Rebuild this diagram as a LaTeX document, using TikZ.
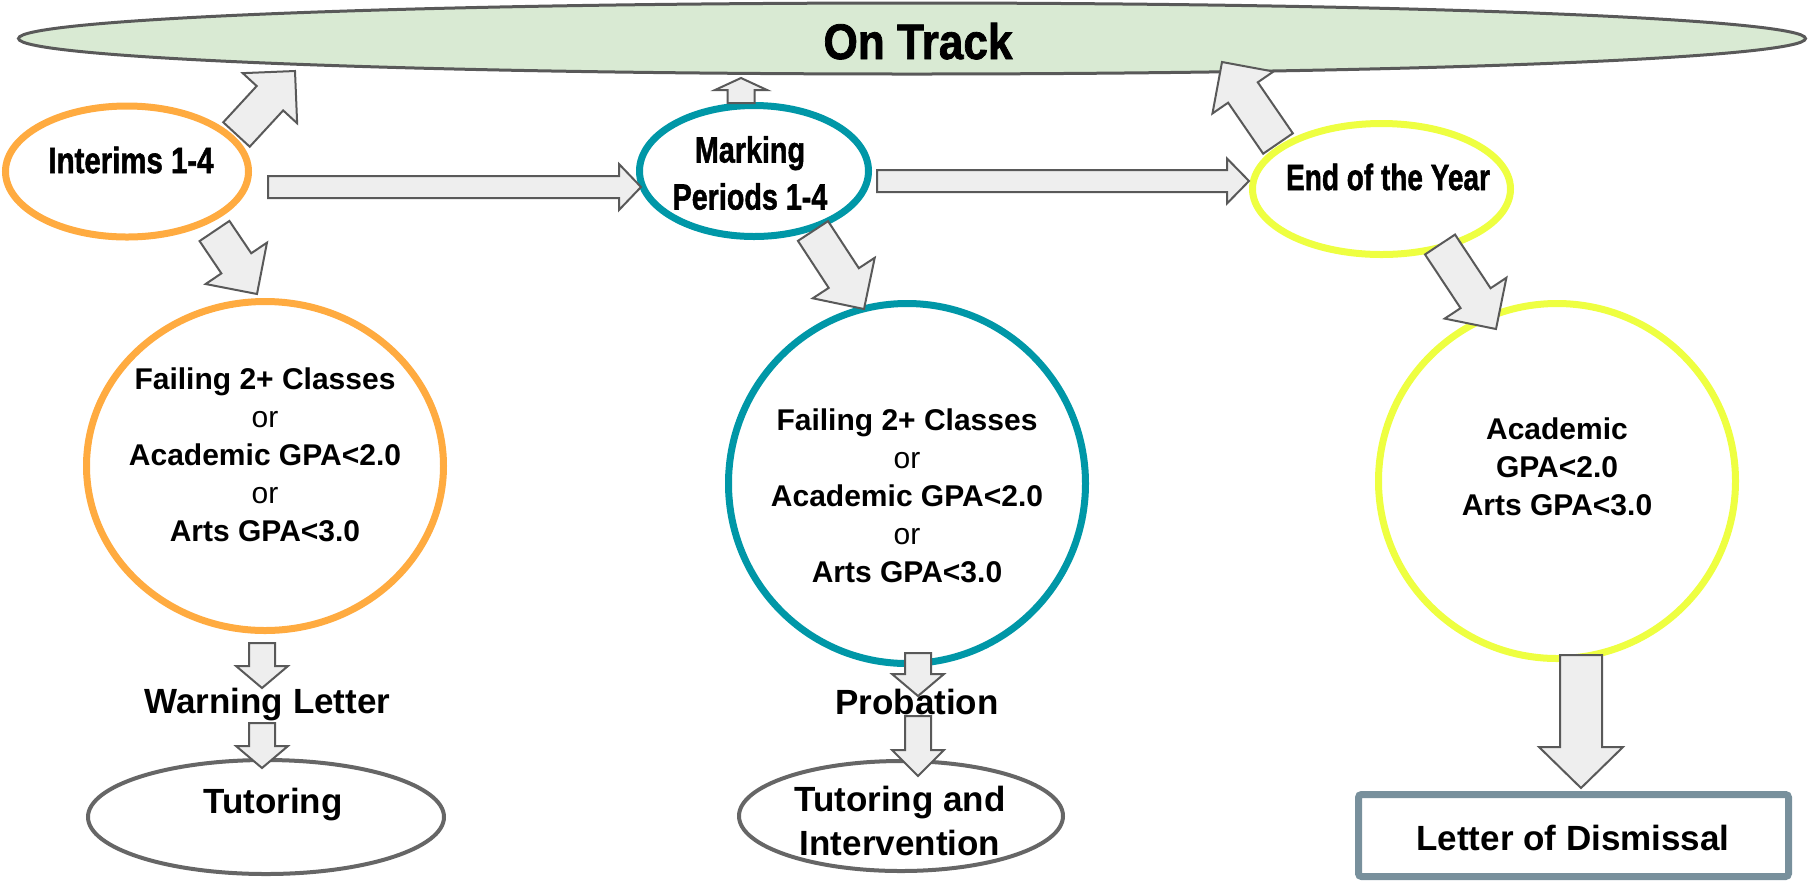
\documentclass[tikz,border=0pt]{standalone}
\usepackage{fontspec}
\setmainfont{Liberation Sans}
\newfontfamily\heavyfont{Liberation Sans}[BoldFeatures={FakeBold=1.6}]
\usepackage{graphicx}
\usetikzlibrary{shapes.geometric,calc}
\definecolor{ontrackfill}{HTML}{D9EAD3}
\definecolor{darkline}{HTML}{595959}
\definecolor{orangeline}{HTML}{FFAB40}
\definecolor{tealline}{HTML}{0097A7}
\definecolor{limeline}{HTML}{EEFF41}
\definecolor{slateline}{HTML}{78909C}
\definecolor{arrowfill}{HTML}{EEEEEE}
\definecolor{greyline}{HTML}{666666}
\newcommand\cnd[2][0.82]{\scalebox{#1}[1.04]{#2}}
% block arrow: start, end, shaft half width, head half width, head length
\newcommand\blockarrow[5]{%
  \coordinate (ba-h) at ($(#2)!#5!(#1)$);
  \draw[blockarrow] ($(#1)!#3!90:(#2)$) -- ($(ba-h)!#3!90:(#2)$) -- ($(ba-h)!#4!90:(#2)$)
    -- (#2) -- ($(ba-h)!#4!-90:(#2)$) -- ($(ba-h)!#3!-90:(#2)$) -- ($(#1)!#3!-90:(#2)$) -- cycle;
}
\tikzset{
  ring/.style={ellipse, draw, inner sep=0pt, line width=3.5pt, fill=white},
  softring/.style={ellipse, draw=greyline, inner sep=0pt, line width=2pt, fill=white},
  blockarrow/.style={draw=darkline, fill=arrowfill, line width=1pt, line join=miter},
  lbl/.style={font=\bfseries\fontsize{15}{19}\selectfont, align=center, inner sep=0pt},
  big/.style={font=\bfseries\fontsize{17.5}{22}\selectfont, align=center, inner sep=0pt},
  cond/.style={font=\heavyfont\bfseries\fontsize{17.5}{23.5}\selectfont, align=center, inner sep=0pt},
}
\begin{document}
\begin{tikzpicture}[x=0.5pt,y=-0.5pt]
\useasboundingbox (0,0) rectangle (1810,880);
% shapes
\node[ellipse, draw=darkline, fill=ontrackfill, line width=1.5pt, inner sep=0pt,
      minimum width=893.5pt, minimum height=35.5pt] (ontrack) at (912,38.5) {};
\node[ring, draw=orangeline, minimum width=121.5pt, minimum height=65.5pt] (interims) at (127,171.5) {};
\node[ring, draw=tealline, minimum width=114.5pt, minimum height=65.5pt] (marking) at (754,171) {};
\node[ring, draw=limeline, minimum width=129pt, minimum height=65.5pt] (endyear) at (1381.5,189) {};
\node[ring, draw=orangeline, minimum width=178.5pt, minimum height=164.5pt] (fail1) at (265,466) {};
\node[ring, draw=tealline, minimum width=178.5pt, minimum height=180pt] (fail2) at (907,483.5) {};
\node[ring, draw=limeline, minimum width=178.5pt, minimum height=177.5pt] (fail3) at (1557,481) {};
\node[softring, minimum width=178pt, minimum height=57pt] (tut1) at (266,817) {};
\node[softring, minimum width=162pt, minimum height=55pt] (tut2) at (901,816) {};
\node[rectangle, draw=slateline, line width=3.5pt, rounded corners=1.5pt, fill=white,
      inner sep=0pt, minimum width=215pt, minimum height=41pt] (dismiss) at (1573.5,835.5) {};
% arrow end points
\coordinate (a1s) at (236.5,134.5);  \coordinate (a1e) at (295,71);
\coordinate (a2s) at (268,187);      \coordinate (a2e) at (641,187);
\coordinate (a3s) at (214.5,231);    \coordinate (a3e) at (257,294);
\coordinate (a4s) at (741,103);      \coordinate (a4e) at (741,78);
\coordinate (a5s) at (877,181);      \coordinate (a5e) at (1249,181);
\coordinate (a6s) at (1278,143.5);   \coordinate (a6e) at (1222,62);
\coordinate (a7s) at (813,231);      \coordinate (a7e) at (864,309);
\coordinate (a8s) at (1440,244.5);   \coordinate (a8e) at (1496,329);
\coordinate (a9s) at (262,643);      \coordinate (a9e) at (262,688);
\coordinate (a10s) at (262,723);     \coordinate (a10e) at (262,768);
\coordinate (a11s) at (918,653);     \coordinate (a11e) at (918,696);
\coordinate (a12s) at (918,716);     \coordinate (a12e) at (918,776);
\coordinate (a13s) at (1581,655);    \coordinate (a13e) at (1581,788);
% arrows
\blockarrow{a1s}{a1e}{9pt}{18.5pt}{18.5pt}
\blockarrow{a2s}{a2e}{5.5pt}{11.5pt}{11pt}
\blockarrow{a3s}{a3e}{9pt}{18.5pt}{18.5pt}
\blockarrow{a4s}{a4e}{6.75pt}{13pt}{6pt}
\blockarrow{a5s}{a5e}{5.5pt}{11.25pt}{11pt}
\blockarrow{a6s}{a6e}{9pt}{18.5pt}{18.5pt}
\blockarrow{a7s}{a7e}{9pt}{18.5pt}{18.5pt}
\blockarrow{a8s}{a8e}{9pt}{18.5pt}{18.5pt}
\blockarrow{a9s}{a9e}{6.5pt}{13pt}{11pt}
\blockarrow{a10s}{a10e}{6.5pt}{13pt}{11pt}
\blockarrow{a11s}{a11e}{6.5pt}{13pt}{11pt}
\blockarrow{a12s}{a12e}{6.5pt}{13pt}{13pt}
\blockarrow{a13s}{a13e}{10.5pt}{21pt}{20.5pt}
% texts
\node[cond, font=\heavyfont\bfseries\fontsize{24}{28}\selectfont, anchor=base] (ontrackT) at (918,59) {\cnd[0.92]{On Track}};
\node[cond, anchor=base] (interimsT) at (131,173) {\cnd[0.84]{Interims 1-4}};
\node[cond] (markingT) at (750,173) {\cnd{Marking}\\\cnd{Periods 1-4}};
\node[cond, anchor=base] (endyearT) at (1388,190) {\cnd[0.8]{End of the Year}};
\node[lbl] (fail1T) at (265,455) {Failing 2+ Classes\\{\mdseries or}\\Academic GPA<2.0\\{\mdseries or}\\Arts GPA<3.0};
\node[lbl] (fail2T) at (907,496) {Failing 2+ Classes\\{\mdseries or}\\Academic GPA<2.0\\{\mdseries or}\\Arts GPA<3.0};
\node[lbl] (fail3T) at (1557,467) {Academic\\GPA<2.0\\Arts GPA<3.0};
\node[big, anchor=base] (warnT) at (267.5,713) {Warning Letter};
\node[big, anchor=base] (probT) at (917,714) {Probation};
\node[big, anchor=base] (tut1T) at (273,813) {Tutoring};
\node[big] (tut2T) at (900,821) {Tutoring and\\Intervention};
\node[big, anchor=base] (dismissT) at (1573,850) {Letter of Dismissal};
\end{tikzpicture}
\end{document}
